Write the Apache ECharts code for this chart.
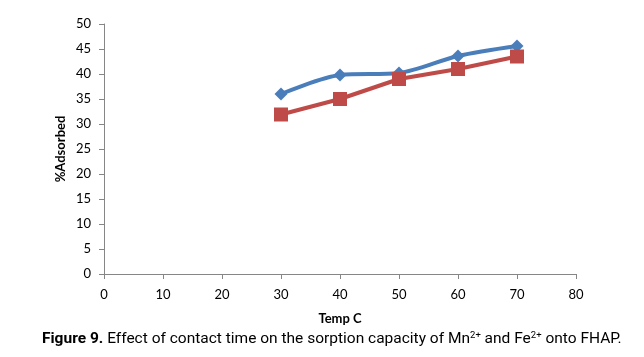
<!DOCTYPE html>
<html>
<head>
<meta charset="utf-8">
<script src="https://cdn.jsdelivr.net/npm/echarts@6/dist/echarts.min.js"></script>
<style>html,body{margin:0;padding:0;background:#fff;}#c{width:644px;height:357px;}</style>
</head>
<body>
<div id="c"></div>
<script>
const temps = [30, 40, 50, 60, 70];
const mnValues = [36.0, 39.8, 40.2, 43.6, 45.6];
const feValues = [31.9, 35.0, 39.0, 41.0, 43.5];
const xTicks = { min: 0, max: 80, interval: 10 };
const yTicks = { min: 0, max: 50, interval: 5 };

const chart = echarts.init(document.getElementById('c'));
const axisColor = '#868686';
const tickFont = 'Lato, "Open Sans", sans-serif';
const capFont = 'Roboto, sans-serif';
chart.setOption({
  animation: false,
  backgroundColor: '#fff',
  grid: { left: 104, right: 68, top: 24, bottom: 83, containLabel: false },
  xAxis: {
    type: 'value', min: xTicks.min, max: xTicks.max, interval: xTicks.interval,
    name: 'Temp C', nameLocation: 'middle', nameGap: 38,
    nameTextStyle: { fontFamily: tickFont, fontWeight: 'bold', fontSize: 13, color: '#000' },
    axisLine: { show: true, lineStyle: { color: axisColor, width: 1 } },
    axisTick: { show: true, length: 5, lineStyle: { color: axisColor } },
    axisLabel: { color: '#000', fontFamily: tickFont, fontSize: 13, margin: 14 },
    splitLine: { show: false }
  },
  yAxis: {
    type: 'value', min: yTicks.min, max: yTicks.max, interval: yTicks.interval,
    name: '%Adsorbed', nameLocation: 'middle', nameGap: 37, nameRotate: 90,
    nameMoveOverlap: false,
    nameTextStyle: { fontFamily: tickFont, fontWeight: 'bold', fontSize: 13, color: '#000' },
    axisLine: { show: true, lineStyle: { color: axisColor, width: 1 } },
    axisTick: { show: true, length: 5, lineStyle: { color: axisColor } },
    axisLabel: { color: '#000', fontFamily: tickFont, fontSize: 13, margin: 13 },
    splitLine: { show: false }
  },
  series: [
    {
      name: 'Mn2+', type: 'line', smooth: 0.3,
      data: temps.map((t, i) => [t, mnValues[i]]),
      symbol: 'diamond', symbolSize: 13,
      lineStyle: { color: '#4a7ebb', width: 4 },
      itemStyle: { color: '#4a7ebb' }
    },
    {
      name: 'Fe2+', type: 'line', smooth: false,
      data: temps.map((t, i) => [t, feValues[i]]),
      symbol: 'rect', symbolSize: 14,
      lineStyle: { color: '#be4b48', width: 4 },
      itemStyle: { color: '#be4b48' }
    }
  ],
  graphic: [{
    type: 'text', left: 42, top: 331,
    style: {
      text: '{b|Figure 9.} Effect of contact time on the sorption capacity of Mn{s|2+} and Fe{s|2+} onto FHAP.',
      font: '15.5px ' + capFont,
      fill: '#000',
      rich: {
        b: { fontWeight: 'bold', fontSize: 15.5, fontFamily: capFont, fill: '#000' },
        s: { fontSize: 9.5, fontFamily: capFont, verticalAlign: 'top', fill: '#000' }
      }
    }
  }]
});
</script>
</body>
</html>
